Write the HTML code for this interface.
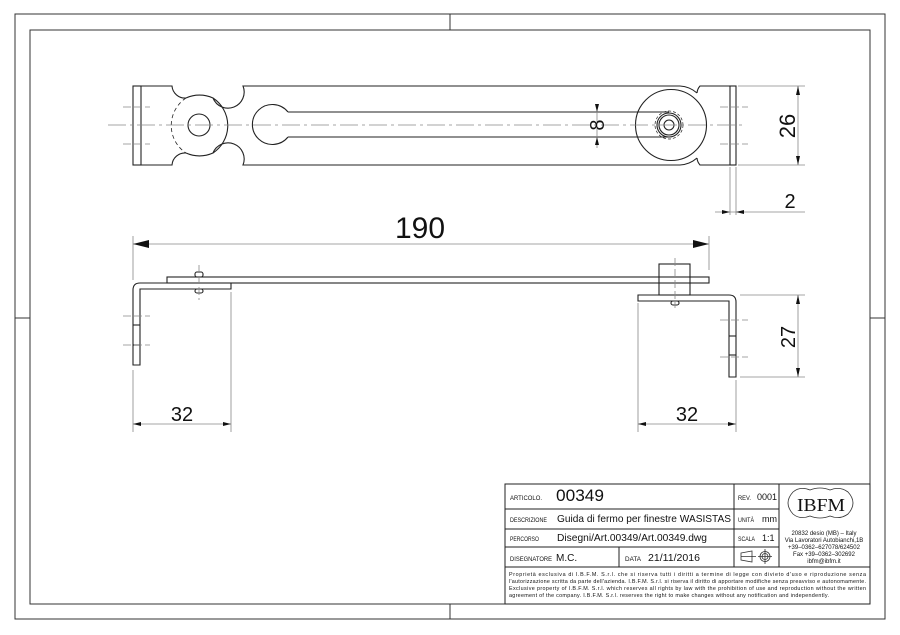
<!DOCTYPE html>
<html><head><meta charset="utf-8"><style>
html,body{margin:0;padding:0;background:#fff}
svg{display:block}
text{font-family:"Liberation Sans",sans-serif;fill:#111}
</style></head><body>
<svg width="900" height="635" viewBox="0 0 900 635" xmlns="http://www.w3.org/2000/svg">
<g fill="none" stroke="#333" stroke-width="1">
<rect x="15" y="14" width="870" height="605"/>
<rect x="30" y="30" width="840" height="574"/>
<line x1="450" y1="14" x2="450" y2="30"/><line x1="450" y1="604" x2="450" y2="619"/>
<line x1="15" y1="318" x2="30" y2="318"/><line x1="870" y1="318" x2="885" y2="318"/>
</g>
<!-- top view -->
<g fill="none" stroke="#222" stroke-width="1.1">
<rect x="133" y="86" width="8" height="79"/>
<path d="M141,86 L172,86 A13,13 0 0 0 186,98"/>
<path d="M141,165 L172,165 A13,13 0 0 1 186,153"/>
<path d="M186,98 A33,33 0 0 1 213,98 A13,13 0 0 0 243,86 L680,86 A28,28 0 0 1 697,93 "/>
<path d="M186,153 A33,33 0 0 0 213,153 A13,13 0 0 1 243,165 L680,165 A28,28 0 0 0 697,158"/>
<path d="M213,98 A33,33 0 0 1 213,153"/>
<path d="M186,98 A33,33 0 0 0 186,153" stroke-dasharray="4,3" stroke-width="0.8"/>
<circle cx="199" cy="125" r="11"/>
<path d="M288,112 L669,112 M288,137 L669,137"/>
<path d="M288,112 A20,20 0 1 0 288,137"/>
<circle cx="671" cy="125" r="35.5"/>
<circle cx="669" cy="125" r="5"/>
<circle cx="669" cy="125" r="10"/>
<circle cx="669" cy="125" r="12"/>
<circle cx="669" cy="125" r="14" stroke-dasharray="3,2" stroke-width="0.7"/>
<path d="M697,93 A12,12 0 0 1 700,86 L730,86 M697,158 A12,12 0 0 0 700,165 L730,165"/>
<rect x="730" y="86" width="6" height="79"/>
</g>
<g stroke="#888" stroke-width="0.8" fill="none">
<line x1="108" y1="125" x2="745" y2="125" stroke-dasharray="18,4,3,4"/>
<path d="M123,107 H150 M123,144 H150 M720,107 H748 M720,144 H748" stroke-dasharray="8,3"/>
<line x1="597" y1="104" x2="597" y2="148"/>
<path d="M738,86 H805 M738,165 H805 M730,167 V215 M736,167 V215 M715,212 H805"/>
<line x1="798" y1="86" x2="798" y2="165"/>
</g>
<g fill="#111">
<path d="M597,112 l-2,-8 h4z M597,137 l-2,8 h4z"/>
<path d="M798,86 l-2,9 h4z M798,165 l-2,-9 h4z"/>
<path d="M730,212 l-8,-2 v4z M736,212 l8,-2 v4z"/>
</g>
<text x="0" y="0" font-size="20" transform="translate(604,125) rotate(-90)" text-anchor="middle">8</text>
<text x="0" y="0" font-size="22" transform="translate(795,126) rotate(-90)" text-anchor="middle">26</text>
<text x="790" y="208" font-size="20" text-anchor="middle">2</text>
<!-- side view -->
<g fill="none" stroke="#222" stroke-width="1.1">
<rect x="167" y="277" width="542" height="6"/>
<path d="M231,283 V289 H140 V365 H133 V290 Q133,283 140,283 Z"/>
<rect x="659" y="264" width="31" height="31"/>
<path d="M638,295 H729 Q736,295 736,302 V377 H729 V301 H638 Z"/>
<rect x="195" y="272" width="8" height="5" rx="2"/>
<rect x="195" y="289" width="8" height="4" rx="2"/>
<rect x="671" y="301" width="8" height="4" rx="2"/>
<line x1="133" y1="325" x2="140" y2="325"/><line x1="133" y1="345" x2="140" y2="345"/>
<line x1="729" y1="336" x2="736" y2="336"/><line x1="729" y1="355" x2="736" y2="355"/>
</g>
<g stroke="#888" stroke-width="0.8" fill="none">
<path d="M199,265 V300 M675,258 V308" stroke-dasharray="8,3"/>
<path d="M123,316 H150 M123,345 H150 M720,320 H748 M720,357 H748" stroke-dasharray="8,3"/>
<path d="M133,236 V280 M709,236 V270 M133,370 V432 M231,292 V432 M638,303 V432 M736,380 V432"/>
<path d="M133,244 H709 M133,424 H231 M638,424 H736"/>
<path d="M740,295 H805 M740,377 H805 M798,295 V377"/>
</g>
<g fill="#111">
<path d="M133,244 l16,-4 v8z M709,244 l-16,-4 v8z"/>
<path d="M133,424 l8,-2 v4z M231,424 l-8,-2 v4z M638,424 l8,-2 v4z M736,424 l-8,-2 v4z"/>
<path d="M798,295 l-2,9 h4z M798,377 l-2,-9 h4z"/>
</g>
<text x="420" y="238" font-size="30" text-anchor="middle">190</text>
<text x="182" y="421" font-size="20" text-anchor="middle">32</text>
<text x="687" y="421" font-size="20" text-anchor="middle">32</text>
<text x="0" y="0" font-size="20" transform="translate(795,337) rotate(-90)" text-anchor="middle">27</text>
<!-- title block -->
<g fill="none" stroke="#222" stroke-width="1">
<rect x="505" y="484" width="365" height="120"/>
<path d="M505,509 H779 M505,529 H779 M505,547 H779 M505,567 H870 M734,484 V567 M779,484 V567 M619,547 V567"/>
</g>
<g font-size="6.5">
<text x="510" y="500" textLength="32" lengthAdjust="spacingAndGlyphs">ARTICOLO.</text>
<text x="510" y="522" textLength="37" lengthAdjust="spacingAndGlyphs">DESCRIZIONE</text>
<text x="510" y="541" textLength="29" lengthAdjust="spacingAndGlyphs">PERCORSO</text>
<text x="510" y="561" textLength="42" lengthAdjust="spacingAndGlyphs">DISEGNATORE</text>
<text x="625" y="561" textLength="16" lengthAdjust="spacingAndGlyphs">DATA</text>
<text x="738" y="500" textLength="13" lengthAdjust="spacingAndGlyphs">REV.</text>
<text x="738" y="522" textLength="16" lengthAdjust="spacingAndGlyphs">UNITÀ</text>
<text x="738" y="541" textLength="17" lengthAdjust="spacingAndGlyphs">SCALA</text>
</g>
<text x="556" y="501" font-size="17" fill="#444" textLength="48" lengthAdjust="spacingAndGlyphs">00349</text>
<text x="557" y="522" font-size="10.5" fill="#333" textLength="174" lengthAdjust="spacingAndGlyphs">Guida di fermo per finestre WASISTAS</text>
<text x="557" y="541" font-size="10.5" fill="#333" textLength="150" lengthAdjust="spacingAndGlyphs">Disegni/Art.00349/Art.00349.dwg</text>
<text x="556" y="561" font-size="10" fill="#333">M.C.</text>
<text x="648" y="561" font-size="10" fill="#333" textLength="52" lengthAdjust="spacingAndGlyphs">21/11/2016</text>
<text x="757" y="500" font-size="9" fill="#333">0001</text>
<text x="762" y="522" font-size="9" fill="#333">mm</text>
<text x="762" y="541" font-size="9" fill="#333">1:1</text>
<g fill="none" stroke="#333" stroke-width="0.8">
<path d="M741,553 L752,551 V562 L741,560 Z M741,556.5 H756"/>
<circle cx="765" cy="556.5" r="5"/><circle cx="765" cy="556.5" r="3"/>
<path d="M758,556.5 H772 M765,549 V564"/>
<path d="M793,492 Q800,486 810,490 Q820,486 830,490 Q840,486 848,492 Q858,503 848,514 Q840,520 830,516 Q820,520 810,516 Q800,520 793,514 Q783,503 793,492 Z"/>
</g>
<text x="821" y="511" font-size="18" text-anchor="middle" style="font-family:'Liberation Serif',serif" fill="#333" textLength="48" lengthAdjust="spacingAndGlyphs">IBFM</text>
<g font-size="6" text-anchor="middle">
<text x="824" y="535">20832 desio (MB) – Italy</text>
<text x="824" y="542">Via Lavoratori Autobianchi,1B</text>
<text x="824" y="549">+39–0362–627078/624502</text>
<text x="824" y="556">Fax +39–0362–302692</text>
<text x="824" y="563">ibfm@ibfm.it</text>
</g>
<g font-size="5.4">
<text x="509" y="576" textLength="357">Proprietà esclusiva di I.B.F.M. S.r.l. che si riserva tutti i diritti a termine di legge con divieto d'uso e riproduzione senza</text>
<text x="509" y="583" textLength="357">l'autorizzazione scritta da parte dell'azienda. I.B.F.M. S.r.l. si riserva il diritto di apportare modifiche senza preavviso e autonomamente.</text>
<text x="509" y="590" textLength="357">Exclusive property of I.B.F.M. S.r.l. which reserves all rights by law with the prohibition of use and reproduction without the written</text>
<text x="509" y="597" textLength="320">agreement of the company. I.B.F.M. S.r.l. reserves the right to make changes without any notification and independently.</text>
</g>
</svg>
</body></html>
